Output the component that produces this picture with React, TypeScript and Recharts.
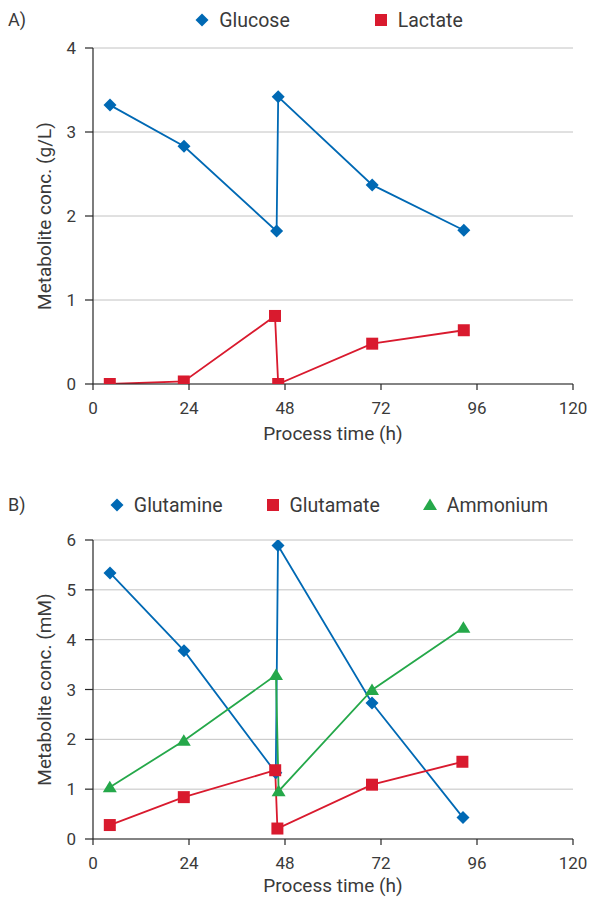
import React from 'react';
import { LineChart, Line, XAxis, YAxis, CartesianGrid, Legend } from 'recharts';

// ---------- data ----------
const timeTicks = [0, 24, 48, 72, 96, 120];
const panelATicks = [0, 1, 2, 3, 4];
const panelBTicks = [0, 1, 2, 3, 4, 5, 6];

// Panel A (g/L)
const glucoseTime = [4.25, 22.75, 45.9, 46.3, 69.8, 92.7];
const glucoseValues = [3.32, 2.83, 1.82, 3.42, 2.37, 1.83];
const lactateTime = [4.2, 22.7, 45.5, 46.3, 69.8, 92.7];
const lactateValues = [0.0, 0.03, 0.81, 0.0, 0.48, 0.64];

// Panel B (mM)
const glutamineTime = [4.25, 22.75, 45.7, 46.25, 69.75, 92.5];
const glutamineValues = [5.34, 3.78, 1.33, 5.89, 2.73, 0.43];
const glutamateTime = [4.2, 22.7, 45.55, 46.1, 69.75, 92.35];
const glutamateValues = [0.28, 0.84, 1.38, 0.21, 1.09, 1.55];
const ammoniumTime = [4.2, 22.7, 45.75, 46.4, 69.75, 92.6];
const ammoniumValues = [1.04, 1.97, 3.29, 0.96, 2.99, 4.24];

const toPoints = (t: number[], v: number[]) => t.map((x, i) => ({ x, y: v[i] }));

// ---------- style ----------
const BLUE = '#0069b4';
const RED = '#d91a2e';
const GREEN = '#25a84a';
const TEXT = '#3a3a3a';
const AXIS = '#262626';
const GRID = '#c2c2c2';
const FONT = 'Roboto, "Open Sans", sans-serif';

type Shape = 'diamond' | 'square' | 'triangle';

const markerPath = (shape: Shape, cx: number, cy: number) => {
  if (shape === 'diamond') {
    const r = 6.5;
    return `M${cx},${cy - r}L${cx + r},${cy}L${cx},${cy + r}L${cx - r},${cy}Z`;
  }
  if (shape === 'square') {
    const h = 6;
    return `M${cx - h},${cy - h}H${cx + h}V${cy + h}H${cx - h}Z`;
  }
  return `M${cx},${cy - 6.5}L${cx + 7},${cy + 5}L${cx - 7},${cy + 5}Z`;
};

const makeDot = (shape: Shape, color: string) => (props: any) => {
  const { cx, cy, index } = props;
  if (cx == null || cy == null) return <g key={index} />;
  return <path key={index} d={markerPath(shape, cx, cy)} fill={color} stroke="none" />;
};

const MarkerIcon = ({ shape, color }: { shape: Shape; color: string }) => (
  <svg width={14} height={14} style={{ display: 'block' }}>
    <path d={markerPath(shape, 7, 7)} fill={color} />
  </svg>
);

const makeLegend = (items: { name: string; shape: Shape; color: string }[], gap: number) => () => (
  <div
    style={{
      display: 'flex',
      justifyContent: 'center',
      alignItems: 'center',
      gap,
      fontFamily: FONT,
      fontSize: 19.5,
      color: TEXT,
      height: 24,
    }}
  >
    {items.map((it) => (
      <div key={it.name} style={{ display: 'flex', alignItems: 'center', gap: 10 }}>
        <MarkerIcon shape={it.shape} color={it.color} />
        <span>{it.name}</span>
      </div>
    ))}
  </div>
);

const YTitle = (props: any) => {
  const { viewBox, text } = props;
  if (!viewBox) return null;
  const bx = viewBox.x + viewBox.width - 42;
  const cy = viewBox.y + viewBox.height / 2;
  return (
    <text
      transform={`translate(${bx},${cy}) rotate(-90)`}
      textAnchor="middle"
      fill={TEXT}
      fontSize={19}
      fontFamily={FONT}
    >
      {text}
    </text>
  );
};

const XTitle = (props: any) => {
  const { viewBox, text, baselineGap } = props;
  if (!viewBox) return null;
  return (
    <text
      x={viewBox.x + viewBox.width / 2}
      y={viewBox.y + baselineGap}
      textAnchor="middle"
      fill={TEXT}
      fontSize={19}
      fontFamily={FONT}
    >
      {text}
    </text>
  );
};

const tickStyle = { fill: TEXT, fontSize: 17, fontFamily: FONT };

type Series = { name: string; time: number[]; values: number[]; shape: Shape; color: string };

const Panel = ({
  tag,
  series,
  yTicks,
  yTitle,
  height,
  marginTop,
  plotHeight,
  legendTop,
  legendGap,
  titleGap,
}: {
  tag: string;
  series: Series[];
  yTicks: number[];
  yTitle: string;
  height: number;
  marginTop: number;
  plotHeight: number;
  legendTop: number;
  legendGap: number;
  titleGap: number;
}) => (
  <div style={{ position: 'relative', width: 589, height }}>
    <div
      style={{
        position: 'absolute',
        left: 8,
        top: legendTop + 3,
        fontFamily: FONT,
        fontSize: 18,
        lineHeight: '18px',
        color: TEXT,
        zIndex: 2,
      }}
    >
      {tag}
    </div>
    <LineChart
      width={589}
      height={height}
      margin={{ top: marginTop, right: 16, bottom: height - marginTop - 60 - plotHeight, left: 33 }}
      style={{ fontFamily: FONT }}
    >
      <CartesianGrid vertical={false} stroke={GRID} strokeWidth={1} />
      <XAxis
        type="number"
        dataKey="x"
        domain={[0, 120]}
        ticks={timeTicks}
        allowDataOverflow
        height={60}
        tickSize={6}
        tickMargin={12}
        tick={tickStyle}
        axisLine={{ stroke: AXIS, strokeWidth: 1.2 }}
        tickLine={{ stroke: AXIS, strokeWidth: 1.2 }}
        label={<XTitle text="Process time (h)" baselineGap={titleGap} />}
      />
      <YAxis
        type="number"
        dataKey="y"
        domain={[yTicks[0], yTicks[yTicks.length - 1]]}
        ticks={yTicks}
        allowDataOverflow
        width={60}
        tickSize={8}
        tickMargin={9}
        tick={tickStyle}
        axisLine={{ stroke: AXIS, strokeWidth: 1.2 }}
        tickLine={{ stroke: AXIS, strokeWidth: 1.2 }}
        label={<YTitle text={yTitle} />}
      />
      <Legend
        verticalAlign="middle"
        align="center"
        wrapperStyle={{ top: legendTop, left: 85, width: 488, height: 24 }}
        content={makeLegend(series, legendGap)}
      />
      {series.map((s) => (
        <Line
          key={s.name}
          name={s.name}
          data={toPoints(s.time, s.values)}
          dataKey="y"
          type="linear"
          stroke={s.color}
          strokeWidth={1.8}
          dot={makeDot(s.shape, s.color)}
          activeDot={false}
          isAnimationActive={false}
        />
      ))}
    </LineChart>
  </div>
);

const seriesA: Series[] = [
  { name: 'Glucose', time: glucoseTime, values: glucoseValues, shape: 'diamond', color: BLUE },
  { name: 'Lactate', time: lactateTime, values: lactateValues, shape: 'square', color: RED },
];

const seriesB: Series[] = [
  { name: 'Glutamine', time: glutamineTime, values: glutamineValues, shape: 'diamond', color: BLUE },
  { name: 'Glutamate', time: glutamateTime, values: glutamateValues, shape: 'square', color: RED },
  { name: 'Ammonium', time: ammoniumTime, values: ammoniumValues, shape: 'triangle', color: GREEN },
];

export default function App() {
  return (
    <div style={{ position: 'absolute', left: 0, top: 0, width: 589, height: 898, background: '#fff', overflow: 'hidden' }}>
      <Panel
        tag="A)"
        series={seriesA}
        yTicks={panelATicks}
        yTitle="Metabolite conc. (g/L)"
        height={450}
        marginTop={48}
        plotHeight={336}
        legendTop={8}
        legendGap={84}
        titleGap={56}
      />
      <Panel
        tag="B)"
        series={seriesB}
        yTicks={panelBTicks}
        yTitle="Metabolite conc. (mM)"
        height={448}
        marginTop={90}
        plotHeight={299}
        legendTop={43}
        legendGap={43}
        titleGap={53}
      />
    </div>
  );
}
